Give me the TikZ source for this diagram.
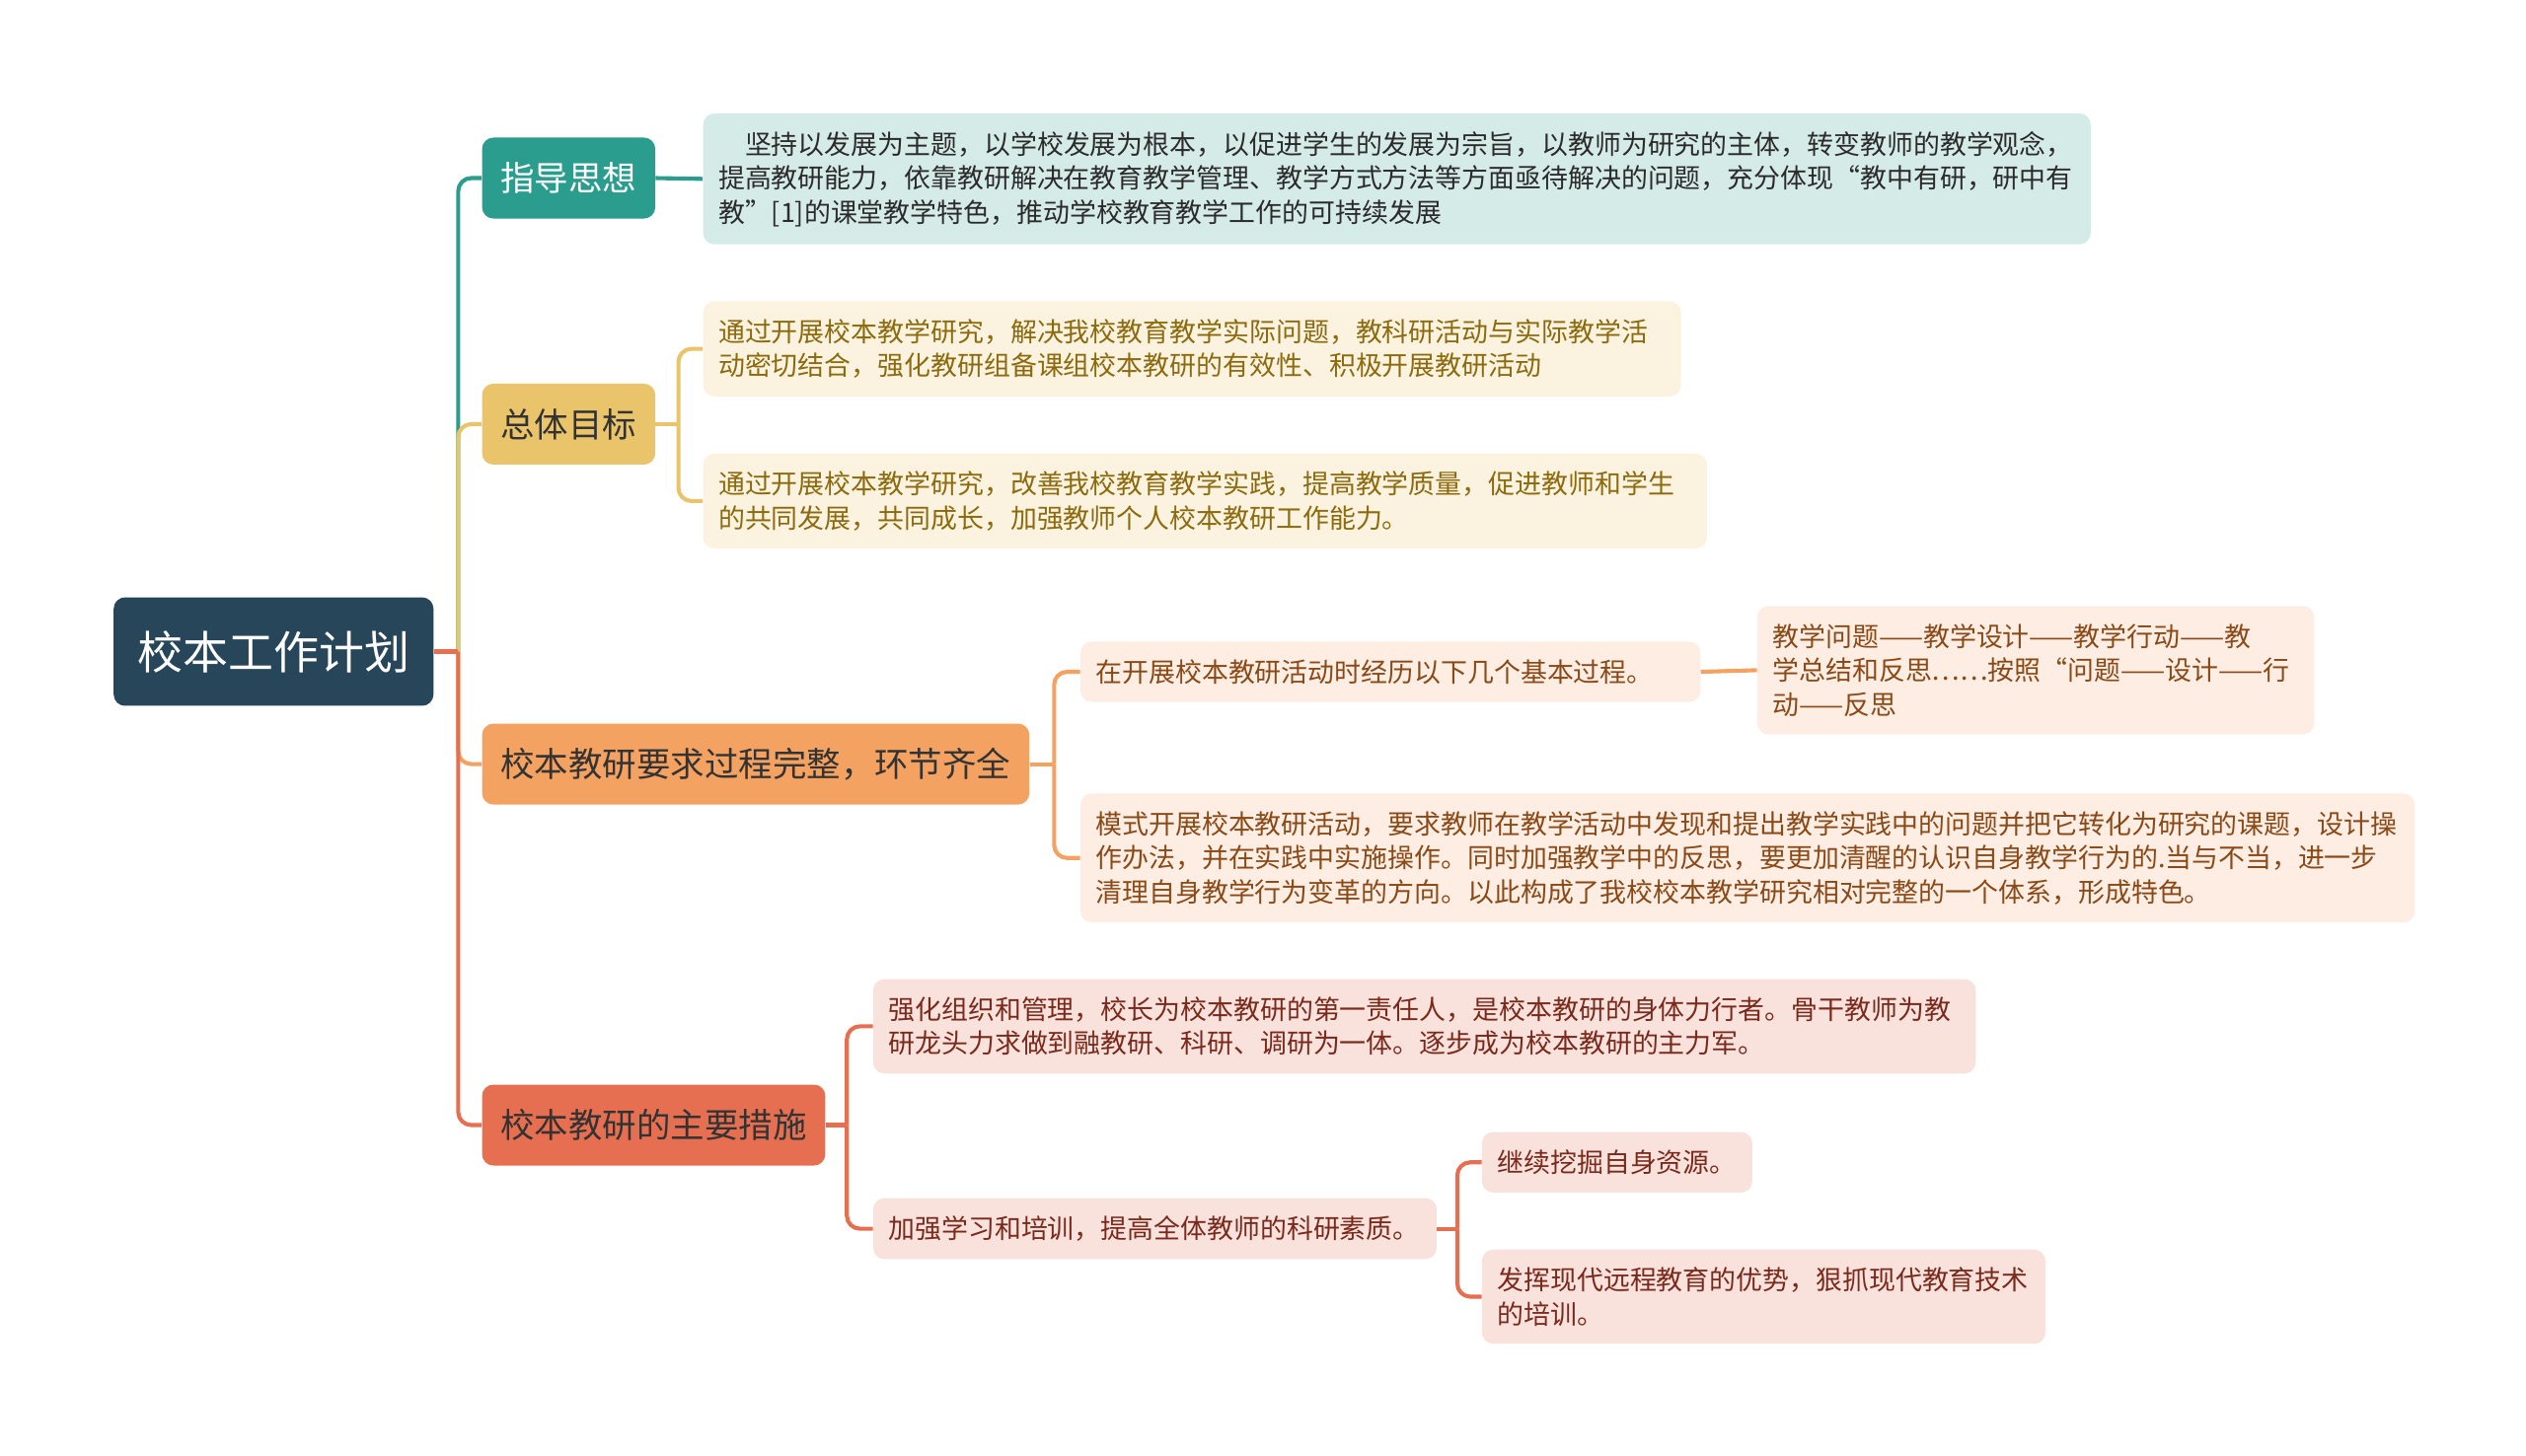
\documentclass[tikz,border=0pt]{standalone}
\usepackage{fontspec}
\setmainfont{Noto Sans CJK SC}
\usetikzlibrary{positioning}

\definecolor{rootc}{HTML}{27465A}
\definecolor{tealc}{HTML}{2A9D8F}
\definecolor{yelc}{HTML}{E9C46A}
\definecolor{orac}{HTML}{F4A261}
\definecolor{redc}{HTML}{E76F51}
\definecolor{teall}{HTML}{D5EBE8}
\definecolor{yell}{HTML}{FBF3E0}
\definecolor{oral}{HTML}{FDEDE3}
\definecolor{redl}{HTML}{F9E1DC}
\definecolor{tealt}{HTML}{2B2B2B}
\definecolor{yelt}{HTML}{8C6A0E}
\definecolor{orat}{HTML}{8A4A18}
\definecolor{redt}{HTML}{7A2A1C}
\definecolor{topict}{HTML}{333333}

\tikzset{
  rootbox/.style={fill=rootc, text=white, rounded corners=7pt, anchor=west,
    font=\fontsize{28}{28}\selectfont, minimum width=197.5pt, minimum height=67pt},
  topicbox/.style={rounded corners=7pt, anchor=west, text=topict,
    font=\fontsize{21}{21}\selectfont, minimum height=50pt, inner xsep=11.5pt},
  leafbox/.style={rounded corners=7pt, anchor=west, align=left,
    font=\fontsize{16.4}{21}\selectfont, inner xsep=9.5pt, inner ysep=11pt},
  branch/.style={line width=2.5pt, rounded corners=8pt},
}

\begin{document}
\begin{tikzpicture}[x=1pt,y=-1pt]
\fill[white] (0,0) rectangle (1560,899);
\useasboundingbox (0,0) rectangle (1560,899);

% root and main topics
\node[rootbox] (root) at (70,402.5) {校本工作计划};
\node[topicbox, fill=tealc, text=white] (guide) at (297.5,110) {指导思想};
\node[topicbox, fill=yelc] (goal) at (297.5,262) {总体目标};
\node[topicbox, fill=orac] (proc) at (297.5,472) {校本教研要求过程完整，环节齐全};
\node[topicbox, fill=redc] (step) at (297.5,695) {校本教研的主要措施};

% leaves
\node[leafbox, fill=teall, text=tealt, text width=838pt] (guide1) at (434,110.5)
  {\hspace*{1em}坚持以发展为主题，以学校发展为根本，以促进学生的发展为宗旨，以教师为研究的主体，转变教师的教学观念，\\
   提高教研能力，依靠教研解决在教育教学管理、教学方式方法等方面亟待解决的问题，充分体现“教中有研，研中有\\
   教”[1]的课堂教学特色，推动学校教育教学工作的可持续发展};
\node[leafbox, fill=yell, text=yelt, text width=585pt] (goal1) at (434,215.5)
  {通过开展校本教学研究，解决我校教育教学实际问题，教科研活动与实际教学活\\
   动密切结合，强化教研组备课组校本教研的有效性、积极开展教研活动};
\node[leafbox, fill=yell, text=yelt, text width=601pt] (goal2) at (434,309.5)
  {通过开展校本教学研究，改善我校教育教学实践，提高教学质量，促进教师和学生\\
   的共同发展，共同成长，加强教师个人校本教研工作能力。};
\node[leafbox, fill=oral, text=orat, text width=364pt] (proc1) at (667,415)
  {在开展校本教研活动时经历以下几个基本过程。};
\node[leafbox, fill=oral, text=orat, text width=325pt] (proc1a) at (1085,414)
  {教学问题——教学设计——教学行动——教\\
   学总结和反思……按照“问题——设计——行\\
   动——反思};
\node[leafbox, fill=oral, text=orat, text width=805pt] (proc2) at (667,530)
  {模式开展校本教研活动，要求教师在教学活动中发现和提出教学实践中的问题并把它转化为研究的课题，设计操\\
   作办法，并在实践中实施操作。同时加强教学中的反思，要更加清醒的认识自身教学行为的.当与不当，进一步\\
   清理自身教学行为变革的方向。以此构成了我校校本教学研究相对完整的一个体系，形成特色。};
\node[leafbox, fill=redl, text=redt, text width=662pt] (step1) at (539,634)
  {强化组织和管理，校长为校本教研的第一责任人，是校本教研的身体力行者。骨干教师为教\\
   研龙头力求做到融教研、科研、调研为一体。逐步成为校本教研的主力军。};
\node[leafbox, fill=redl, text=redt, text width=329pt] (step2) at (539,759)
  {加强学习和培训，提高全体教师的科研素质。};
\node[leafbox, fill=redl, text=redt, text width=148pt] (step2a) at (915,718)
  {继续挖掘自身资源。};
\node[leafbox, fill=redl, text=redt, text width=329pt] (step2b) at (915,801)
  {发挥现代远程教育的优势，狠抓现代教育技术\\
   的培训。};

% hubs where the lines split
\coordinate (hub) at (283,402.5);
\coordinate (goalhub) at (419,262);
\coordinate (prochub) at (651,472);
\coordinate (stephub) at (523,695);
\coordinate (step2hub) at (900,759);

% main branches
\draw[branch, tealc] (hub) |- (guide.west);
\draw[branch, yelc] (hub) |- (goal.west);
\draw[branch, orac] (hub) |- (proc.west);
\draw[branch, redc] (hub) |- (step.west);
\draw[line width=2.5pt, redc] (root.east) -- (hub);

% sub branches
\draw[line width=2.5pt, tealc] (guide.east) -- (guide1.west);
\draw[line width=2.5pt, yelc] (goal.east) -- (goalhub);
\draw[branch, yelc] (goalhub) |- (goal1.west);
\draw[branch, yelc] (goalhub) |- (goal2.west);
\draw[line width=2.5pt, orac] (proc.east) -- (prochub);
\draw[branch, orac] (prochub) |- (proc1.west);
\draw[branch, orac] (prochub) |- (proc2.west);
\draw[line width=2.5pt, orac] (proc1.east) -- (proc1a.west);
\draw[line width=2.5pt, redc] (step.east) -- (stephub);
\draw[branch, redc] (stephub) |- (step1.west);
\draw[branch, redc] (stephub) |- (step2.west);
\draw[line width=2.5pt, redc] (step2.east) -- (step2hub);
\draw[branch, redc] (step2hub) |- (step2a.west);
\draw[branch, redc] (step2hub) |- (step2b.west);

\end{tikzpicture}
\end{document}
